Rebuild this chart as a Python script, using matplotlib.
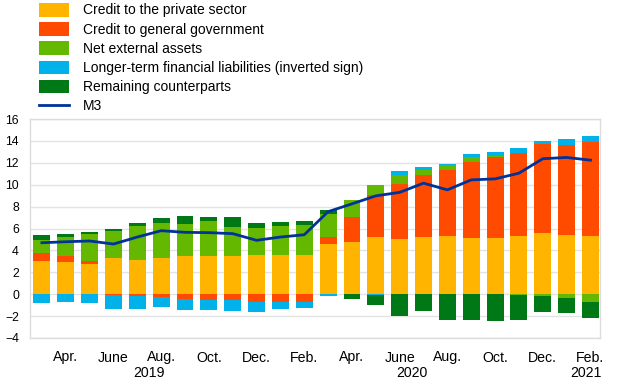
import matplotlib
matplotlib.use("Agg")
import matplotlib.pyplot as plt
import numpy as np
from matplotlib.patches import Patch
from matplotlib.lines import Line2D
from matplotlib.transforms import blended_transform_factory

plt.rcParams['font.family'] = ['Liberation Sans', 'DejaVu Sans']

months = ["Mar.", "Apr.", "May", "June", "July", "Aug.", "Sep.", "Oct.", "Nov.", "Dec.", "Jan.", "Feb.",
          "Mar.", "Apr.", "May", "June", "July", "Aug.", "Sep.", "Oct.", "Nov.", "Dec.", "Jan.", "Feb."]
years = [2019] * 10 + [2020] * 12 + [2021] * 2

private = [3.02, 2.93, 2.78, 3.27, 3.15, 3.33, 3.48, 3.48, 3.48, 3.57, 3.60, 3.60,
           4.55, 4.73, 5.25, 5.04, 5.25, 5.28, 5.16, 5.16, 5.28, 5.62, 5.37, 5.28]
gov = [0.70, 0.55, 0.24, -0.09, -0.18, -0.24, -0.40, -0.49, -0.55, -0.67, -0.67, -0.70,
       0.64, 2.32, 3.82, 4.98, 5.62, 6.05, 6.87, 7.33, 7.61, 8.06, 8.28, 8.58]
nea = [1.22, 1.74, 2.51, 2.53, 3.08, 3.20, 2.93, 3.24, 2.69, 2.51, 2.66, 2.75,
       2.14, 1.56, 0.88, 0.85, 0.43, 0.46, 0.46, 0.15, -0.10, -0.18, -0.34, -0.70]
ltfl = [-0.79, -0.70, -0.82, -1.22, -1.16, -0.95, -1.07, -0.91, -0.98, -0.92, -0.70, -0.52,
        -0.15, 0.0, -0.10, 0.37, 0.30, 0.12, 0.30, 0.31, 0.42, 0.27, 0.52, 0.58]
remaining = [0.48, 0.25, 0.15, 0.15, 0.30, 0.46, 0.74, 0.30, 0.91, 0.42, 0.37, 0.34,
             0.36, -0.40, -0.85, -1.98, -1.53, -2.32, -2.38, -2.47, -2.22, -1.44, -1.34, -1.50]
m3 = [4.70, 4.79, 4.86, 4.58, 5.22, 5.80, 5.65, 5.62, 5.53, 4.92, 5.22, 5.43,
      7.54, 8.25, 8.98, 9.30, 10.14, 9.53, 10.44, 10.53, 11.05, 12.37, 12.49, 12.24]

series = [
    ("Credit to the private sector", private, "#FFB400"),
    ("Credit to general government", gov, "#FF4B00"),
    ("Net external assets", nea, "#65B800"),
    ("Longer-term financial liabilities (inverted sign)", ltfl, "#00B1EA"),
    ("Remaining counterparts", remaining, "#007816"),
]

fig = plt.figure(figsize=(6.2, 3.87), dpi=100)
ax = fig.add_axes([30 / 620, 1 - 338 / 387, 570 / 620, (338 - 119) / 387])

x = np.arange(len(months))
pos_base = np.zeros(len(x))
neg_base = np.zeros(len(x))
for label, vals, col in series:
    v = np.array(vals)
    p = np.where(v > 0, v, 0)
    n = np.where(v < 0, v, 0)
    ax.bar(x, p, bottom=pos_base, width=0.71, color=col, zorder=2)
    ax.bar(x, n, bottom=neg_base, width=0.71, color=col, zorder=2)
    pos_base += p
    neg_base += n

ax.plot(x, m3, color="#003299", lw=2.0, zorder=3)

ax.set_xlim(-0.5, 23.4)
ax.set_ylim(-4, 16)
ax.set_yticks(np.arange(-4, 17, 2))
ax.yaxis.grid(True, color="#e3e3e3", lw=1.0, zorder=0)
ax.set_axisbelow(True)
for s in ax.spines.values():
    s.set_color("#dcdcdc")
    s.set_linewidth(1.0)
ax.tick_params(axis="both", length=0, colors="black")
ax.tick_params(axis="y", pad=8, labelsize=8.8)

tick_idx = list(range(1, 24, 2))
ax.set_xticks(tick_idx)
ax.set_xticklabels([months[i] for i in tick_idx])
ax.tick_params(axis="x", pad=9, labelsize=10.2)

trans = blended_transform_factory(ax.transData, fig.transFigure)
for yr in sorted(set(years)):
    idx = [i for i, yy in enumerate(years) if yy == yr]
    xc = (idx[0] + idx[-1]) / 2 if yr != 2021 else idx[-1] - 0.2
    ax.text(xc, 1 - 373 / 387, str(yr), transform=trans, ha="center", va="center", fontsize=10.2)

handles = [Patch(facecolor=c, edgecolor="none") for _, _, c in series]
handles.append(Line2D([0], [0], color="#003299", lw=2.0))
labels = [s[0] for s in series] + ["M3"]
fig.legend(handles, labels, loc="upper left", bbox_to_anchor=(39 / 620, 1 - 3 / 387),
           frameon=False, fontsize=10, borderpad=0, borderaxespad=0,
           handlelength=2.15, handleheight=1.12, handletextpad=1.0, labelspacing=0.34)

fig.savefig("out.png", dpi=100)
